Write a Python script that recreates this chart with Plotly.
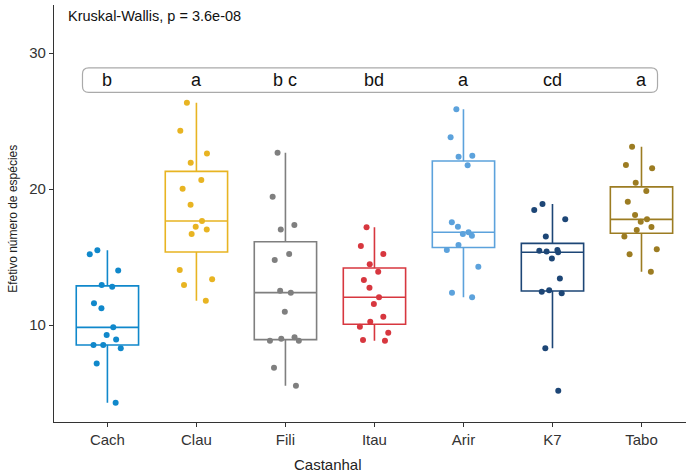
import plotly.graph_objects as go

categories = ["Cach", "Clau", "Fili", "Itau", "Arir", "K7", "Tabo"]
colors = ["#1088cb", "#e8b422", "#7f7f7f", "#d7373f", "#5ca2dc", "#1d4676", "#9c7c22"]

cach = [15.5, 15.2, 14.0, 12.94, 12.82, 11.6, 11.23, 9.83, 9.26, 8.94, 8.53, 8.29, 8.53, 7.18, 4.29]
clau = [26.35, 24.29, 22.62, 21.94, 20.66, 20.02, 18.85, 17.65, 17.03, 17.23, 16.69, 14.04, 13.36, 12.94, 11.79]
fili = [22.67, 19.43, 17.35, 17.03, 15.22, 14.78, 12.52, 12.38, 10.98, 8.85, 8.85, 9.1, 6.86, 5.54, 9.0]
itau = [17.18, 15.81, 15.22, 14.46, 13.92, 13.31, 12.74, 12.04, 11.54, 10.61, 10.24, 9.88, 9.43, 8.9, 8.85]
arir = [25.86, 23.8, 22.38, 22.45, 21.74, 17.55, 17.23, 16.57, 16.82, 16.69, 15.88, 15.51, 14.29, 12.38, 12.04]
k7 = [18.9, 18.46, 17.77, 16.5, 15.51, 15.46, 15.4, 15.35, 14.9, 13.43, 12.55, 12.45, 12.33, 8.29, 5.17]
tabo = [23.11, 21.52, 21.76, 20.46, 19.85, 19.07, 18.09, 17.77, 17.6, 17.2, 16.99, 16.5, 15.57, 15.2, 13.92]
series = [cach, clau, fili, itau, arir, k7, tabo]

letters = ["b", "a", "b c", "bd", "a", "cd", "a"]
y_ticks = [10, 20, 30]
kw_text = "Kruskal-Wallis, p = 3.6e-08"
x_title = "Castanhal"
y_title = "Efetivo número de espécies"

FONT = "Liberation Sans, Arial, sans-serif"

fig = go.Figure()
for cat, vals, col in zip(categories, series, colors):
    fig.add_trace(go.Box(
        x=[cat] * len(vals), y=vals, name=cat,
        boxpoints="all", jitter=0.65, pointpos=0,
        quartilemethod="inclusive",
        width=0.7, whiskerwidth=0,
        fillcolor="rgba(255,255,255,0)",
        line=dict(color=col, width=1.6),
        marker=dict(color=col, size=6, line=dict(width=0)),
        hoveron="boxes+points",
    ))

# letter annotations
for cat, lab in zip(categories, letters):
    fig.add_annotation(x=cat, y=28.0, xref="x", yref="y", text=lab,
                       showarrow=False, font=dict(family=FONT, size=18, color="#111111"),
                       yanchor="middle")

# rounded frame around letters
x0, x1, y0, y1 = -0.28, 6.18, 27.1, 28.9
rx, ry = 0.07, 0.45
path = (f"M {x0+rx},{y0} L {x1-rx},{y0} Q {x1},{y0} {x1},{y0+ry} "
        f"L {x1},{y1-ry} Q {x1},{y1} {x1-rx},{y1} L {x0+rx},{y1} "
        f"Q {x0},{y1} {x0},{y1-ry} L {x0},{y0+ry} Q {x0},{y0} {x0+rx},{y0} Z")
fig.add_shape(type="path", path=path, xref="x", yref="y",
              line=dict(color="#aaaaaa", width=1.2), fillcolor="rgba(255,255,255,0)", layer="below")

fig.add_annotation(x=-0.46, y=32.7, xref="x", yref="y", text=kw_text, showarrow=False,
                   xanchor="left", yanchor="middle", font=dict(family=FONT, size=14.5, color="#111111"))

fig.add_annotation(x=0.4335, y=-0.103, xref="paper", yref="paper", text=x_title, showarrow=False,
                   xanchor="center", yanchor="middle", font=dict(family=FONT, size=15, color="#222222"))
fig.add_annotation(x=-0.065, y=0.487, xref="paper", yref="paper", text=y_title, showarrow=False,
                   textangle=-90, xanchor="center", yanchor="middle",
                   font=dict(family=FONT, size=12, color="#222222"))

fig.update_layout(
    width=686, height=474,
    margin=dict(l=54, r=0, t=5, b=52),
    paper_bgcolor="white", plot_bgcolor="white",
    showlegend=False,
    boxmode="overlay",
    font=dict(family=FONT),
)
fig.update_xaxes(
    type="category", categoryorder="array", categoryarray=categories,
    range=[-0.6, 6.5], showgrid=False, zeroline=False,
    showline=True, linecolor="#333333", linewidth=1.2,
    ticks="outside", ticklen=4, tickcolor="#333333",
    tickfont=dict(family=FONT, size=15, color="#333333"),
)
fig.update_yaxes(
    range=[2.87, 33.53], tickvals=y_ticks, showgrid=False, zeroline=False,
    showline=True, linecolor="#333333", linewidth=1.2,
    ticks="outside", ticklen=4, tickcolor="#333333",
    tickfont=dict(family=FONT, size=15, color="#333333"),
)

fig.write_html("out.html", config={"displayModeBar": False},
               post_script="document.body.style.margin='0px';document.body.style.overflow='hidden';")
